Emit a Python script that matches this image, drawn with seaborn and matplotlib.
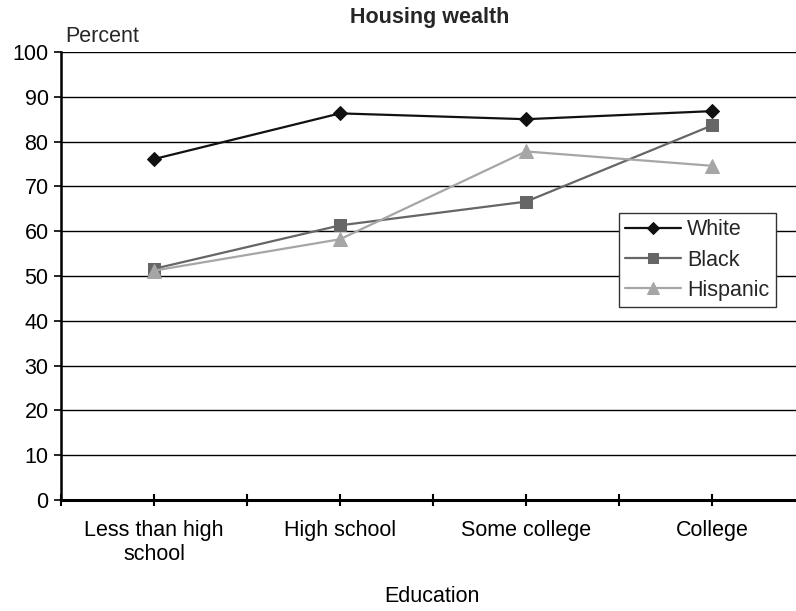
import matplotlib
matplotlib.use("Agg")
import matplotlib.pyplot as plt
import seaborn as sns
import pandas as pd

# Share of households holding housing wealth, by education and race/ethnicity
education = ["Less than high\nschool", "High school", "Some college", "College"]
white = [76.1, 86.3, 85.0, 86.8]
black = [51.6, 61.3, 66.6, 83.6]
hispanic = [51.2, 58.2, 77.8, 74.6]
groups = ["White", "Black", "Hispanic"]
y_ticks = list(range(0, 101, 10))

df = pd.DataFrame({
    "education": education * 3,
    "percent": white + black + hispanic,
    "group": [g for g in groups for _ in education],
})

sns.set_theme(style="white")
plt.rcParams["font.family"] = ["Liberation Sans", "DejaVu Sans"]
FS = 15.5

fig = plt.figure(figsize=(7.96, 6.11), dpi=100)
# plot area runs past the right edge of the canvas
ax = fig.add_axes([61 / 796, 111 / 611, 744 / 796, 448 / 611])

palette = {"White": "#111111", "Black": "#666666", "Hispanic": "#a6a6a6"}
markers = {"White": "D", "Black": "s", "Hispanic": "^"}
sizes = {"White": 7, "Black": 9, "Hispanic": 10}

for g in groups:
    sub = df[df["group"] == g]
    sns.lineplot(data=sub, x="education", y="percent", ax=ax, color=palette[g],
                 marker=markers[g], markersize=sizes[g], markeredgecolor=palette[g],
                 linewidth=1.6, label=g, sort=False, zorder=3)

ax.set_xlim(-0.5, 3.5)
ax.set_ylim(0, 100)
ax.set_yticks(y_ticks)
ax.set_yticklabels([str(v) for v in y_ticks], fontsize=FS)
ax.yaxis.grid(True, color="black", linewidth=1.0)
ax.set_axisbelow(True)

ax.set_xticks(range(len(education)))
ax.set_xticklabels(education, fontsize=FS, linespacing=1.15)
ax.set_xticks([-0.5, 0.5, 1.5, 2.5, 3.5], minor=True)
ax.tick_params(axis="x", which="both", bottom=True, direction="inout", length=9,
               width=1.5, color="black", pad=10)
ax.tick_params(axis="y", left=True, direction="out", length=5, width=1.2,
               color="black", pad=4)
ax.tick_params(axis="both", labelcolor="black")

for side in ["top", "right"]:
    ax.spines[side].set_visible(False)
ax.spines["left"].set_color("black")
ax.spines["left"].set_linewidth(1.8)
ax.spines["bottom"].set_color("black")
ax.spines["bottom"].set_linewidth(2.2)

ax.set_xlabel("Education", fontsize=FS, color="black")
ax.xaxis.set_label_coords(371 / 744, -86 / 448)
ax.set_ylabel("")
fig.text(65 / 796, 1 - 37 / 611, "Percent", fontsize=FS, va="center", ha="left")
fig.text(430 / 796, 1 - 18 / 611, "Housing wealth", fontsize=FS, fontweight="bold",
         va="center", ha="center")

leg = ax.legend(loc="upper left", bbox_to_anchor=((619 - 61) / 744, 1 - (213 - 52) / 448),
                fontsize=FS, frameon=True, fancybox=False, framealpha=1,
                edgecolor="#333333", handlelength=2.6, handletextpad=0.25,
                borderpad=0.3, labelspacing=0.42, markerscale=0.85, borderaxespad=0)
leg.get_frame().set_linewidth(1.0)

fig.savefig("out.png", dpi=100)
